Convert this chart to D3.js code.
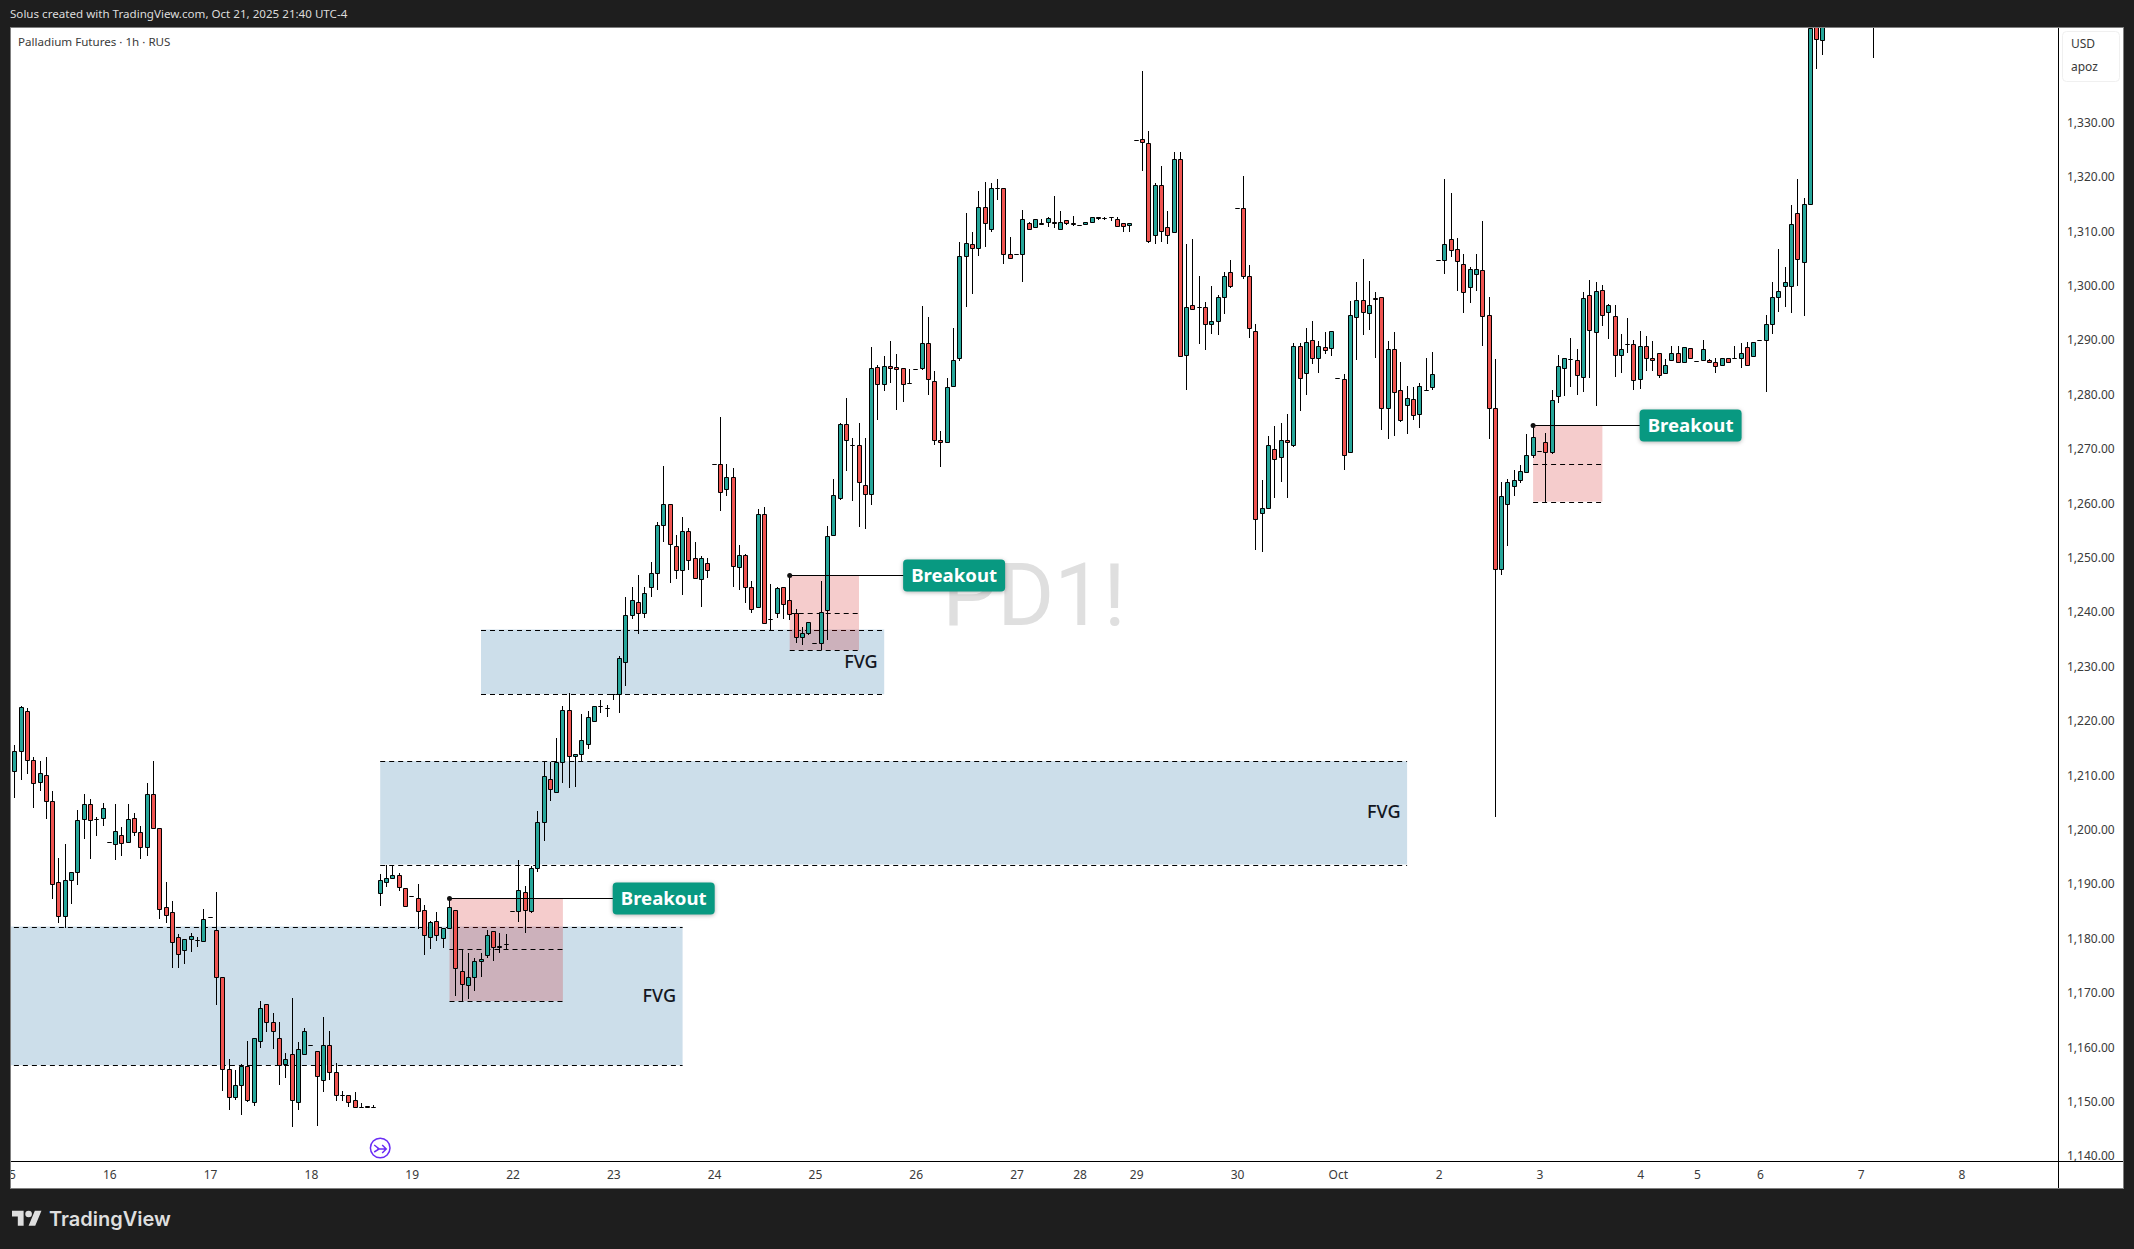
<!DOCTYPE html>
<html>
<head>
<meta charset="utf-8">
<title>Palladium Futures 1h</title>
<script src="https://cdnjs.cloudflare.com/ajax/libs/d3/7.8.5/d3.min.js"></script>
<style>
    html, body { margin: 0; padding: 0; background: #1e1e1e; }
    svg { display: block; }
    text { font-family: "Noto Sans", sans-serif; }
    .axis text { font-size: 12px; fill: #3a3a3a; }
</style>
</head>
<body>
<svg id="chart" width="2134" height="1249"></svg>
<script>
// bar values, one entry per hourly bar, null = bar is above the visible range
const opens = [
    1210.7,1210.7,1214.4,1221.8,1212.8,1208.8,1210,1205.2,1190.3,1184.1,
    1190.7,1192.3,1201.9,1204.8,1201.9,1202.1,1197.7,1197.3,1199,1197.7,
    1202.1,1199.5,1196.8,1206.5,1200.3,1185.7,1184.8,1180.2,1177.8,1179.9,
    1179.8,1179.5,1183.9,1181.5,1172.9,1156.1,1150.8,1153,1156.5,1149.9,
    1161.1,1167.9,1164.6,1161.8,1156.9,1158.7,1149.9,1158.7,1160.4,1159.3,
    1153.9,1160.4,1155.4,1151.3,1151.3,1150.3,1149.1,1149.2,1149,1188.3,
    1190.3,1191.1,1191.6,1189.2,1187.9,1187.4,1185.2,1180.2,1183.2,1180,
    1181.9,1185.2,1174.1,1171.4,1172.9,1175.8,1176.9,1181.3,1178.4,1178.9,
    1185,1185,1188.5,1185,1192.9,1201.4,1209.4,1206.9,1212.4,1222,
    1213.5,1213.9,1215.7,1219.9,1222.7,1222.4,1224.9,1224.9,1230.8,1239.4,
    1241.8,1239.8,1244.7,1247.1,1256,1259.8,1252.1,1247.7,1255,1250,
    1246,1249,1267.2,1267.2,1262.6,1264.8,1248.2,1250.5,1244.7,1240.9,
    1258,1238.8,1239.8,1244.6,1242.3,1239.8,1235.5,1236.1,1234.4,1234.4,
    1240.3,1254.1,1260.9,1274.6,1270.7,1270.7,1263.3,1261.8,1285,1281.9,
    1285.2,1285,1284.8,1282.2,1284.6,1284.8,1289.4,1282.5,1271.6,1271.2,
    1281.5,1286.8,1305.4,1307.6,1307,1314.4,1310.5,1317.9,1317.9,1305.8,
    1305.8,1305.8,1311.5,1310.7,1311.6,1311.8,1311.8,1310.5,1312,1311.6,
    1311.2,1311.3,1311.8,1312.7,1312.4,1312.7,1312.2,1311.6,1311.1,1326.7,
    1326.9,1326.2,1309.3,1318.6,1310.7,1309.8,1323.2,1287.2,1296.4,1296,
    1296,1292.9,1293.5,1297.9,1302.6,1314.2,1314.2,1301.7,1291.6,1258.2,
    1259.1,1269.9,1268.6,1271.6,1270.8,1288.9,1283.9,1290.1,1286.8,1288.7,
    1288.5,1283,1282.8,1269.5,1294.2,1297.3,1294.9,1297.7,1297.9,1277.6,
    1288.3,1280.8,1278,1279.1,1276.4,1280.9,1281.3,1304.8,1304.8,1308.5,
    1306.7,1303.9,1299.7,1302.1,1302.8,1294.7,1277.6,1248,1259.8,1263.1,
    1264.2,1265.7,1268.8,1269.7,1271.2,1269.4,1279.8,1284.8,1286.5,1286.3,
    1283.3,1298.2,1291.4,1299.3,1295.1,1294.5,1287.2,1289.2,1289.2,1282.8,
    1289,1286.8,1287.7,1283.9,1286.3,1287.7,1286,1288.5,1286.1,1286.3,
    1286.3,1285.9,1285.4,1286.8,1286.8,1286.8,1288.8,1287,1290.1,1290.1,
    1292.9,1297.9,1299.9,1300,1313.3,1304.3,1315.1,1350,1345.1,
    null,null,null,null,null,null,null,1365
];
const highs = [
    1210.7,1215.6,1222.7,1222.3,1213.3,1212.6,1213.3,1207.2,1194.8,1197.4,
    1192.2,1203.7,1206.5,1205.6,1202.3,1205,1197.7,1204.7,1200.5,1204.8,
    1203,1200.7,1208.6,1212.6,1200.3,1190.4,1186.9,1180.8,1179.9,1181.1,
    1180.2,1185.5,1183.9,1188.5,1172.9,1157.8,1155.8,1157,1161.1,1161.8,
    1168.6,1167.9,1166.3,1164.6,1158.9,1169,1160.9,1163.5,1160.4,1159.3,
    1165.5,1163,1157.2,1151.9,1151.3,1151.7,1149.7,1149.3,1149.4,1191.8,
    1193.6,1193.3,1192.1,1189.2,1187.9,1190.1,1186.1,1183.3,1184.8,1181.9,
    1187.4,1185.2,1178,1177.3,1176.5,1177.3,1181.5,1181.3,1181.1,1180.8,
    1185,1194.5,1189.6,1193.3,1203.4,1212.7,1212.4,1216.8,1222.7,1225.1,
    1213.9,1221.3,1221.8,1222.7,1223.8,1222.9,1224.9,1231.9,1242.7,1244.6,
    1246.8,1244.7,1249.3,1256.5,1266.9,1259.8,1254.1,1257.4,1255.4,1252.8,
    1250.4,1249.9,1267.2,1275.8,1267.2,1266.4,1252.3,1250.6,1245.8,1258.9,
    1259.3,1245.1,1244.7,1244.7,1246.8,1240.5,1237.3,1238.1,1234.4,1245.8,
    1255.8,1264.4,1274.7,1279.3,1272,1274.7,1272,1288.8,1285.5,1287,
    1289.8,1287.4,1284.8,1284.6,1284.6,1296.2,1294.2,1284.4,1273.2,1283,
    1292.2,1308,1313.3,1309.8,1317.5,1319,1318.8,1319.7,1317.9,1308.9,
    1305.8,1313.9,1311.8,1312.2,1312.2,1312.7,1316.4,1313.7,1312,1312.9,
    1311.2,1311.8,1312.7,1312.7,1312.7,1312.7,1312.6,1311.6,1311.5,1326.7,
    1339.5,1328.4,1318.8,1322,1313.7,1324.5,1324.5,1307.7,1308.5,1301.7,
    1297,1299.9,1298.2,1302.6,1304.7,1314.2,1320.1,1303.8,1293,1264.2,
    1272.3,1274.3,1274.7,1276.5,1289.4,1289.4,1292.3,1293.6,1289.8,1291.4,
    1291.6,1283,1283.7,1297.1,1300.6,1304.9,1300.8,1298.8,1298,1289.8,
    1291.4,1285.9,1281.5,1281.3,1282.2,1286.8,1287.8,1304.8,1319.7,1317,
    1308.7,1305.9,1303.4,1305.8,1311.9,1297.9,1286.6,1264,1264.4,1266.2,
    1267,1272.7,1274.4,1269.7,1273,1280.8,1287.2,1286.8,1290.3,1288.3,
    1298.8,1301,1300.6,1300.1,1296.6,1296.4,1291.2,1294,1290.1,1291.6,
    1290.7,1289.8,1287.7,1286.5,1288.9,1288.9,1288.7,1288.5,1286.1,1290.1,
    1286.6,1286.8,1286.8,1286.8,1288.9,1289.4,1289.6,1289.6,1290.1,1294.7,
    1300.6,1306.7,1303.5,1314.8,1319.7,1316.1,1347.7,1352,1352,
    null,null,null,null,null,null,null,1370
];
const lows = [
    1210.7,1205.9,1209.2,1210.3,1203.9,1207.2,1202,1187.3,1182.9,1182,
    1186.4,1189.9,1198.3,1194.7,1198.9,1200.6,1197.7,1194.5,1195.2,1197.7,
    1198.9,1194.7,1195.2,1200.4,1183.5,1182.9,1174.5,1174.5,1175.4,1177.6,
    1178.5,1179.5,1183.9,1167.7,1152,1148.4,1150.4,1147.6,1150,1149.3,
    1159.8,1162.9,1159.6,1153.1,1154.4,1145.4,1148.4,1158.7,1160.4,1145.6,
    1151.8,1154,1150.2,1150.2,1149.1,1149,1149.1,1149,1149,1186,
    1189.4,1191.1,1188.8,1185.9,1187.9,1181.8,1177,1178,1179.6,1178.3,
    1181.7,1169.5,1168.5,1168.8,1170.3,1172.9,1176.5,1175.9,1177.4,1178,
    1185,1183.1,1181,1184.6,1192.2,1198,1205.3,1206.9,1208.5,1207.6,
    1207.9,1212.6,1214.8,1219.9,1221.5,1220.8,1223.8,1221.5,1226.5,1238.7,
    1236,1239,1242.7,1244.1,1252.8,1245.3,1246,1243.2,1247.7,1246,
    1241,1246.3,1267.2,1258.5,1261.4,1244.7,1244,1241.6,1239.9,1240.9,
    1238,1236.8,1239,1238.8,1238.6,1234.4,1233.9,1235.7,1234.4,1233,
    1234.9,1254.1,1260.6,1266,1260.5,1255.7,1255.3,1259.7,1275.4,1280.7,
    1282.2,1277.2,1278.7,1282,1284.6,1284.5,1280,1270.8,1266.7,1271.2,
    1281.5,1286.2,1296,1298.5,1305.5,1307.2,1309.9,1315.8,1304,1305,
    1305.8,1300.7,1310.2,1310.7,1311.3,1310.8,1310.6,1310.5,1311.2,1311,
    1311,1311.3,1311.8,1312,1312.1,1311.9,1310.9,1309.9,1309.9,1326.7,
    1321,1307.9,1307.6,1308.1,1307.6,1309.8,1287,1280.9,1295.6,1289.3,
    1288.1,1291.2,1291,1294.8,1299.6,1314.2,1301.2,1290.4,1251.5,1251.1,
    1258.9,1260.9,1263.9,1260.9,1270.3,1277,1280,1285.6,1284,1287.5,
    1287,1283,1266.2,1269.5,1286.4,1291,1291.9,1286.8,1273.4,1271.8,
    1272.4,1274.9,1272.8,1275.3,1273.9,1280.8,1280.9,1304.8,1302.2,1305.3,
    1299.1,1294.9,1296.9,1299.1,1288.9,1271.9,1202.3,1246.9,1252.1,1261.4,
    1263.7,1265.7,1268.4,1269.7,1260.3,1269,1278.4,1279.8,1281.3,1280,
    1280.4,1283,1277.9,1292.5,1290.2,1283.3,1284,1287.6,1280.8,1281,
    1284.4,1284.4,1283,1283.7,1286.3,1286,1286,1286.8,1286.1,1286.3,
    1285.9,1284,1285.4,1285.9,1286.8,1284.8,1285.5,1287,1290.1,1280.5,
    1291.1,1295.2,1296,1294.9,1300,1294.5,1315.1,1339.8,1342.4,
    null,null,null,null,null,null,null,1341.9
];
const closes = [
    1210.7,1214.4,1222.5,1212.8,1208.5,1210.5,1205.2,1190.1,1184.1,1190.7,
    1192.2,1201.7,1204.8,1201.7,1201.9,1203.9,1197.7,1199.7,1197.5,1201.9,
    1199.5,1196.8,1206.5,1200.4,1185.4,1184.4,1179.3,1177.1,1179.9,1180.4,
    1179.8,1183.5,1183.9,1172.9,1156.1,1150.8,1153,1156.5,1150.4,1161.8,
    1167.2,1164.6,1163,1156.7,1157.8,1150.3,1159.6,1163,1160.4,1154.8,
    1160.4,1155.4,1151.3,1151.3,1149.9,1149,1149.1,1149,1149,1190.7,
    1191.1,1191.6,1189.4,1185.9,1187.9,1185,1180.6,1183,1180.6,1181.9,
    1185.7,1174.5,1171.6,1172.9,1175.8,1176.3,1180.6,1178.4,1178.7,1178.9,
    1185,1189,1185.2,1192.9,1201.4,1209.8,1207.4,1212.4,1222,1213.5,
    1213.9,1216.4,1220.8,1222.7,1222.7,1222.4,1224.9,1231.5,1239.4,1242.2,
    1239.8,1243.6,1247.1,1256.1,1259.8,1252.6,1247.7,1255,1249.5,1246.2,
    1249.9,1247.7,1267.2,1262,1264.8,1248.4,1250.5,1244.7,1240.5,1258,
    1238,1238.7,1244.4,1241.4,1239.6,1235.4,1236.1,1238.1,1234.4,1240.1,
    1253.9,1261.5,1274.5,1271.6,1270.7,1263.9,1261.8,1284.8,1281.9,1285.2,
    1284.8,1284.6,1281.9,1282.2,1284.6,1289.4,1282.8,1271.6,1271.2,1281.3,
    1286.3,1305.4,1307.8,1307,1314.4,1311.5,1317.9,1317.9,1305.8,1305,
    1305.8,1312.2,1310.4,1312.2,1311.3,1312.4,1311.5,1311.8,1311.6,1311.3,
    1311.2,1311.8,1312.7,1312.4,1312.4,1312.7,1310.9,1310.9,1311.5,1326.7,
    1326.4,1308.3,1318.6,1310,1309.4,1323.2,1287,1296,1295.8,1296,
    1292.9,1293.5,1298,1301.7,1299.9,1314.2,1301.7,1292.2,1257.2,1259.1,
    1270.8,1268.1,1271.6,1271.2,1288.9,1283,1289.6,1286.8,1288.9,1288.1,
    1291.6,1283,1268.8,1294.6,1297.3,1295.1,1296.4,1297.5,1277.5,1288.3,
    1280.4,1275.3,1279.3,1276.2,1281.5,1280.8,1283.7,1304.8,1307.6,1306.5,
    1304.5,1298.8,1303,1303,1294.4,1277.6,1247.9,1261.3,1264,1264.2,
    1265.9,1268.8,1272.1,1269.7,1269.4,1278.9,1285.2,1286.8,1286.5,1283.5,
    1297.7,1291.8,1299,1294.7,1296.4,1287.2,1288.3,1289.2,1282.6,1289,
    1286.8,1286.3,1283.5,1285.4,1287.7,1286,1288.7,1286.8,1286.1,1288.3,
    1285.9,1285.2,1286.8,1285.9,1286.8,1287.6,1285.5,1289.6,1290.1,1293,
    1297.9,1299,1300.6,1311.3,1304.9,1315.1,1347.3,1345.3,1350,
    null,null,null,null,null,null,null,1362
];

// time axis: bar index of the first bar of each day
const dayBars = [0,16,32,48,64,80,96,112,128,144,160,170,179,195,211,227,243,259,268,278,294,310];
const dayLabels = ["15","16","17","18","19","22","23","24","25","26","27","28","29","30","Oct","2","3","4","5","6","7","8"];
const priceTicks = d3.range(1140, 1331, 10);

// FVG zones: bar index range and price range
const zoneStart = [-2, 59, 75];
const zoneEnd = [107, 222, 139];
const zoneTop = [1182.2, 1212.6, 1236.8];
const zoneBottom = [1156.7, 1193.6, 1224.9];
const zoneTextBar = [103.3, 218.3, 135.3];
const zoneTextPrice = [1169.6, 1203.4, 1230.9];

// breakout boxes
const boxStart = [70, 124, 242];
const boxEnd = [88, 135, 253];
const boxTop = [1187.4, 1246.8, 1274.4];
const boxMid = [1178, 1239.8, 1267.3];
const boxBottom = [1168.5, 1233, 1260.3];
const boxLabelBar = [104, 150.1, 267];

const upColor = "#26a69a", downColor = "#ef5350";

const margin = { top: 27, right: 2059, bottom: 1161, left: 10 };
const svg = d3.select("#chart");

let x = d3.scaleLinear().domain([0, 1]).range([8.5, 14.8]);
let y = d3.scaleLinear().domain([1140, 1330]).range([1156.1, 122.5]);

let bars = opens.map((o, i) => ({ i: i, o: o, h: highs[i], l: lows[i], c: closes[i] }))
    .filter(d => d.o !== null);

// frame
svg.append("rect").attr("x", 10.5).attr("y", 27.5).attr("width", 2113).attr("height", 1161)
    .attr("fill", "#fff").attr("stroke", "#7f7f7f");

svg.append("text").attr("x", 10).attr("y", 18).text("Solus created with TradingView.com, Oct 21, 2025 21:40 UTC-4")
    .style("font-size", "11.6px").style("fill", "#dcdcdc");

svg.append("clipPath").attr("id", "plot").append("rect")
    .attr("x", margin.left + 1).attr("y", margin.top + 1)
    .attr("width", margin.right - margin.left - 1).attr("height", margin.bottom - margin.top - 1);
svg.append("clipPath").attr("id", "timeClip").append("rect")
    .attr("x", margin.left + 1).attr("y", margin.bottom)
    .attr("width", margin.right - margin.left - 1).attr("height", 27);

let plot = svg.append("g").attr("clip-path", "url(#plot)");

// watermark
plot.append("text").attr("x", 1034).attr("y", 625).attr("text-anchor", "middle")
    .text("PD1!").style("font-size", "87px").style("font-family", "Roboto").style("font-weight", 400)
    .style("fill", "#dfdfdf");

let crisp = v => Math.round(v) + 0.5;

let drawDashed = (g, x1, x2, yy) => {
    g.append("line").attr("x1", x1).attr("x2", x2).attr("y1", crisp(yy)).attr("y2", crisp(yy))
        .attr("stroke", "#000").attr("stroke-dasharray", "5,4");
};

// zones
zoneStart.forEach((s, k) => {
    plot.append("rect").attr("x", x(s)).attr("width", x(zoneEnd[k]) - x(s))
        .attr("y", y(zoneTop[k])).attr("height", y(zoneBottom[k]) - y(zoneTop[k]))
        .attr("fill", "rgb(0,90,150)").attr("fill-opacity", 0.2);
    drawDashed(plot, x(s), x(zoneEnd[k]), y(zoneTop[k]));
    drawDashed(plot, x(s), x(zoneEnd[k]), y(zoneBottom[k]));
});

// breakout boxes
boxStart.forEach((s, k) => {
    plot.append("rect").attr("x", x(s)).attr("width", x(boxEnd[k]) - x(s))
        .attr("y", y(boxTop[k])).attr("height", y(boxBottom[k]) - y(boxTop[k]))
        .attr("fill", "rgb(204,0,0)").attr("fill-opacity", 0.2);
    drawDashed(plot, x(s), x(boxEnd[k]), y(boxMid[k]));
    drawDashed(plot, x(s), x(boxEnd[k]), y(boxBottom[k]));
});

// candles
let wickX = d => Math.floor(x(d.i)) + 0.5;
let bodyPath = d => {
    let top = crisp(y(Math.max(d.o, d.c))), bottom = crisp(y(Math.min(d.o, d.c))),
        cx = wickX(d);
    return `M${cx - 2},${top}H${cx + 2}V${bottom}H${cx - 2}Z`;
};

plot.append("g").selectAll("line").data(bars).enter().append("line")
    .attr("x1", wickX).attr("x2", wickX)
    .attr("y1", d => Math.round(y(d.h))).attr("y2", d => Math.round(y(d.l)))
    .attr("stroke", "#000");

plot.append("g").selectAll("path").data(bars).enter().append("path")
    .attr("d", bodyPath)
    .attr("fill", d => d.c < d.o ? downColor : upColor)
    .attr("stroke", "#000");

// breakout leader lines and labels
boxStart.forEach((s, k) => {
    let yy = crisp(y(boxTop[k])), lx = x(boxLabelBar[k]);
    plot.append("line").attr("x1", x(s)).attr("x2", lx).attr("y1", yy).attr("y2", yy).attr("stroke", "#000");
    plot.append("circle").attr("cx", x(s)).attr("cy", yy).attr("r", 2.5).attr("fill", "#111");
    plot.append("rect").attr("x", lx - 51).attr("y", yy - 16).attr("width", 102).attr("height", 32).attr("rx", 4)
        .attr("fill", "#089981").style("filter", "drop-shadow(0 1px 2px rgba(0,0,0,.3))");
    plot.append("text").attr("x", lx).attr("y", yy + 6.8).attr("text-anchor", "middle").text("Breakout")
        .style("font-size", "18.6px").style("font-weight", 700).style("fill", "#fff");
});

// FVG labels
zoneStart.forEach((s, k) => {
    plot.append("text").attr("x", x(zoneTextBar[k])).attr("y", y(zoneTextPrice[k]) + 6.5)
        .attr("text-anchor", "middle").text("FVG")
        .style("font-size", "18px").style("font-weight", 500).style("fill", "#131722");
});

// session break marker
let marker = plot.append("g").attr("transform", `translate(${x(59)},1148)`)
    .attr("fill", "none").attr("stroke", "#6a2cf5").attr("stroke-width", 1.5);
marker.append("circle").attr("r", 9.8).attr("fill", "#fff");
marker.append("path").attr("d", "M-6,-3L-1,1L-6,4M-3,1H6M2,-3L6,1L2,5");

// axes
let timeAxis = d3.axisBottom(x).tickValues(dayBars).tickSize(0).tickPadding(9)
    .tickFormat((d, i) => dayLabels[i]);
svg.append("g").attr("clip-path", "url(#timeClip)")
    .append("g").attr("class", "axis")
    .attr("transform", `translate(0,${margin.bottom})`).call(timeAxis)
    .call(g => g.select(".domain").remove());

let priceAxis = d3.axisRight(y).tickValues(priceTicks).tickSize(0).tickPadding(8)
    .tickFormat(d3.format(",.2f"));
svg.append("g").attr("class", "axis")
    .attr("transform", `translate(${margin.right},0)`).call(priceAxis)
    .call(g => g.select(".domain").remove());

svg.append("line").attr("x1", 11).attr("x2", 2123).attr("y1", margin.bottom + 0.5).attr("y2", margin.bottom + 0.5)
    .attr("stroke", "#000");
svg.append("line").attr("x1", margin.right - 0.5).attr("x2", margin.right - 0.5).attr("y1", 28).attr("y2", 1188)
    .attr("stroke", "#000");

// legend and unit box
svg.append("text").attr("x", 18).attr("y", 46).text("Palladium Futures · 1h · RUS")
    .style("font-size", "11.6px").style("fill", "#3a3a3a");
svg.append("rect").attr("x", 2062.5).attr("y", 31.5).attr("width", 57).attr("height", 50).attr("rx", 4)
    .attr("fill", "#fff").attr("stroke", "#f0f0f0");
svg.append("text").attr("x", 2071).attr("y", 48).text("USD").style("font-size", "12px").style("fill", "#3a3a3a");
svg.append("text").attr("x", 2071).attr("y", 71).text("apoz").style("font-size", "12px").style("fill", "#3a3a3a");

// TradingView mark
let logo = svg.append("g").attr("transform", "translate(12,1207.4) scale(0.83)").attr("fill", "#dedede");
logo.append("path").attr("d", "M14 22H7V11H0V4h14v18zM28 22h-8l7.5-18h8L28 22z");
logo.append("circle").attr("cx", 20).attr("cy", 8).attr("r", 4);
svg.append("text").attr("x", 49).attr("y", 1226).text("TradingView")
    .style("font-family", "Inter").style("font-size", "20px").style("font-weight", 600).style("fill", "#dedede");
</script>
</body>
</html>
